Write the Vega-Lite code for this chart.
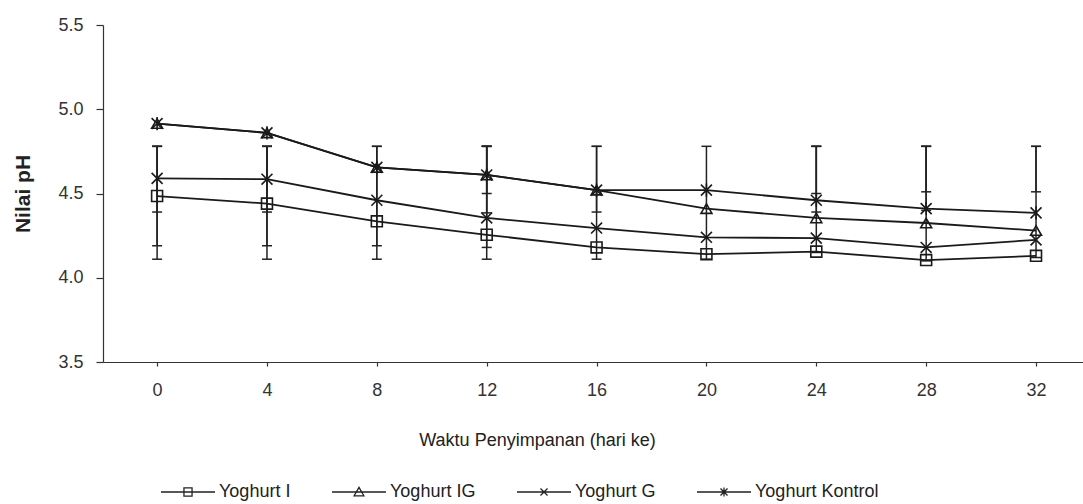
{
  "$schema": "https://vega.github.io/schema/vega-lite/v6.json",
  "width": 980,
  "height": 337,
  "autosize": "none",
  "padding": {"left": 103, "top": 25, "right": 0, "bottom": 142},
  "background": "white",
  "config": {
    "font": "Liberation Sans",
    "view": {"stroke": null},
    "axis": {"grid": false, "domainColor": "#333", "tickColor": "#333", "labelColor": "#333", "titleColor": "#222", "domainWidth": 1.2, "tickWidth": 1.2}
  },
  "resolve": {"scale": {"shape": "independent"}, "legend": {"shape": "independent"}},
  "datasets": {
    "means": [
      {"day": 0, "series": "Yoghurt I", "ph": 4.485},
      {"day": 4, "series": "Yoghurt I", "ph": 4.44},
      {"day": 8, "series": "Yoghurt I", "ph": 4.335},
      {"day": 12, "series": "Yoghurt I", "ph": 4.255},
      {"day": 16, "series": "Yoghurt I", "ph": 4.18},
      {"day": 20, "series": "Yoghurt I", "ph": 4.14},
      {"day": 24, "series": "Yoghurt I", "ph": 4.155},
      {"day": 28, "series": "Yoghurt I", "ph": 4.105},
      {"day": 32, "series": "Yoghurt I", "ph": 4.13},
      {"day": 0, "series": "Yoghurt IG", "ph": 4.915},
      {"day": 4, "series": "Yoghurt IG", "ph": 4.86},
      {"day": 8, "series": "Yoghurt IG", "ph": 4.655},
      {"day": 12, "series": "Yoghurt IG", "ph": 4.61},
      {"day": 16, "series": "Yoghurt IG", "ph": 4.52},
      {"day": 20, "series": "Yoghurt IG", "ph": 4.41},
      {"day": 24, "series": "Yoghurt IG", "ph": 4.355},
      {"day": 28, "series": "Yoghurt IG", "ph": 4.325},
      {"day": 32, "series": "Yoghurt IG", "ph": 4.28},
      {"day": 0, "series": "Yoghurt G", "ph": 4.59},
      {"day": 4, "series": "Yoghurt G", "ph": 4.585},
      {"day": 8, "series": "Yoghurt G", "ph": 4.46},
      {"day": 12, "series": "Yoghurt G", "ph": 4.355},
      {"day": 16, "series": "Yoghurt G", "ph": 4.295},
      {"day": 20, "series": "Yoghurt G", "ph": 4.24},
      {"day": 24, "series": "Yoghurt G", "ph": 4.235},
      {"day": 28, "series": "Yoghurt G", "ph": 4.18},
      {"day": 32, "series": "Yoghurt G", "ph": 4.225},
      {"day": 0, "series": "Yoghurt Kontrol", "ph": 4.915},
      {"day": 4, "series": "Yoghurt Kontrol", "ph": 4.86},
      {"day": 8, "series": "Yoghurt Kontrol", "ph": 4.655},
      {"day": 12, "series": "Yoghurt Kontrol", "ph": 4.61},
      {"day": 16, "series": "Yoghurt Kontrol", "ph": 4.52},
      {"day": 20, "series": "Yoghurt Kontrol", "ph": 4.52},
      {"day": 24, "series": "Yoghurt Kontrol", "ph": 4.46},
      {"day": 28, "series": "Yoghurt Kontrol", "ph": 4.41},
      {"day": 32, "series": "Yoghurt Kontrol", "ph": 4.385}
    ],
    "errors": [
      {"day": 0, "lo": 4.11, "hi": 4.78},
      {"day": 0, "lo": 4.19, "hi": 4.78},
      {"day": 0, "lo": 4.39, "hi": 4.78},
      {"day": 4, "lo": 4.11, "hi": 4.78},
      {"day": 4, "lo": 4.19, "hi": 4.78},
      {"day": 4, "lo": 4.39, "hi": 4.78},
      {"day": 8, "lo": 4.11, "hi": 4.78},
      {"day": 8, "lo": 4.19, "hi": 4.78},
      {"day": 12, "lo": 4.11, "hi": 4.78},
      {"day": 12, "lo": 4.18, "hi": 4.78},
      {"day": 12, "lo": 4.385, "hi": 4.78},
      {"day": 12, "lo": 4.5, "hi": 4.78},
      {"day": 16, "lo": 4.11, "hi": 4.78},
      {"day": 16, "lo": 4.39, "hi": 4.78},
      {"day": 20, "lo": 4.11, "hi": 4.78},
      {"day": 24, "lo": 4.15, "hi": 4.78},
      {"day": 24, "lo": 4.39, "hi": 4.78},
      {"day": 24, "lo": 4.5, "hi": 4.78},
      {"day": 28, "lo": 4.1, "hi": 4.78},
      {"day": 28, "lo": 4.4, "hi": 4.78},
      {"day": 28, "lo": 4.51, "hi": 4.78},
      {"day": 32, "lo": 4.12, "hi": 4.78},
      {"day": 32, "lo": 4.51, "hi": 4.78}
    ]
  },
  "layer": [
    {
      "data": {"name": "errors"},
      "mark": {"type": "rule", "color": "#222", "strokeWidth": 1.5},
      "encoding": {
        "x": {
          "field": "day", "type": "quantitative",
          "scale": {"domain": [-1.97, 33.71], "nice": false, "zero": false},
          "title": "Waktu Penyimpanan (hari ke)",
          "axis": {
            "values": [0, 4, 8, 12, 16, 20, 24, 28, 32],
            "tickSize": 4, "labelPadding": 15, "labelFontSize": 18, "labelFlush": false,
            "titleFontSize": 18, "titleFontWeight": "normal",
            "titleX": 434, "titleY": 78, "titleBaseline": "middle"
          }
        },
        "y": {
          "field": "lo", "type": "quantitative",
          "scale": {"domain": [3.5, 5.5], "nice": false, "zero": false},
          "title": "Nilai pH",
          "axis": {
            "values": [3.5, 4.0, 4.5, 5.0, 5.5], "format": ".1f",
            "tickSize": 7, "labelPadding": 13, "labelFontSize": 18,
            "titleFontSize": 21, "titleFontWeight": "bold", "titlePadding": 24
          }
        },
        "y2": {"field": "hi"}
      }
    },
    {
      "data": {"name": "errors"},
      "mark": {"type": "tick", "orient": "horizontal", "size": 10, "thickness": 1.5, "color": "#222", "opacity": 1},
      "encoding": {
        "x": {"field": "day", "type": "quantitative", "title": "Waktu Penyimpanan (hari ke)"},
        "y": {"field": "lo", "type": "quantitative", "title": "Nilai pH"}
      }
    },
    {
      "data": {"name": "errors"},
      "mark": {"type": "tick", "orient": "horizontal", "size": 10, "thickness": 1.5, "color": "#222", "opacity": 1},
      "encoding": {
        "x": {"field": "day", "type": "quantitative", "title": "Waktu Penyimpanan (hari ke)"},
        "y": {"field": "hi", "type": "quantitative", "title": "Nilai pH"}
      }
    },
    {
      "data": {"name": "means"},
      "mark": {"type": "line", "color": "#1a1a1a", "strokeWidth": 1.8},
      "encoding": {
        "x": {"field": "day", "type": "quantitative", "title": "Waktu Penyimpanan (hari ke)"},
        "y": {"field": "ph", "type": "quantitative", "title": "Nilai pH"},
        "detail": {"field": "series", "type": "nominal"}
      }
    },
    {
      "data": {"name": "means"},
      "mark": {"type": "point", "filled": false, "color": "#1a1a1a", "strokeWidth": 1.6, "size": 120, "opacity": 1},
      "encoding": {
        "x": {"field": "day", "type": "quantitative", "title": "Waktu Penyimpanan (hari ke)"},
        "y": {"field": "ph", "type": "quantitative", "title": "Nilai pH"},
        "shape": {
          "field": "series", "type": "nominal",
          "scale": {
            "domain": ["Yoghurt I", "Yoghurt IG", "Yoghurt G", "Yoghurt Kontrol"],
            "range": ["square", "triangle-up", "M-1,-1L1,1M-1,1L1,-1", "M-1,-1L1,1M-1,1L1,-1M0,-1.2L0,1.2"]
          },
          "legend": null
        }
      }
    },
    {
      "data": {"name": "means"},
      "transform": [{"filter": "datum.day < 0"}],
      "mark": {"type": "point", "filled": false, "color": "#222", "strokeWidth": 1.3, "opacity": 1},
      "encoding": {
        "x": {"field": "day", "type": "quantitative", "title": "Waktu Penyimpanan (hari ke)"},
        "y": {"field": "ph", "type": "quantitative", "title": "Nilai pH"},
        "shape": {
          "field": "series", "type": "nominal",
          "scale": {
            "domain": ["Yoghurt I", "Yoghurt IG", "Yoghurt G", "Yoghurt Kontrol"],
            "range": [
              "M-1,0L1,0M-0.15,-0.15L0.15,-0.15L0.15,0.15L-0.15,0.15Z",
              "M-1,0L1,0M0,-0.17L0.18,0.14L-0.18,0.14Z",
              "M-1,0L1,0M-0.13,-0.13L0.13,0.13M-0.13,0.13L0.13,-0.13",
              "M-1,0L1,0M-0.13,-0.13L0.13,0.13M-0.13,0.13L0.13,-0.13M0,-0.17L0,0.17"
            ]
          },
          "legend": {
            "title": null,
            "orient": "none",
            "legendX": 57,
            "legendY": 439,
            "direction": "horizontal",
            "columns": 4,
            "columnPadding": 38,
            "padding": 0,
            "symbolSize": 2916,
            "symbolStrokeWidth": 1.3,
            "symbolStrokeColor": "#222",
            "symbolFillColor": "transparent",
            "labelOffset": 3,
            "labelFontSize": 18,
            "labelColor": "#222",
            "labelFont": "Liberation Sans",
            "encode": {
              "symbols": {
                "update": {
                  "size": {"value": 2916},
                  "stroke": {"value": "#222"},
                  "fill": {"value": "transparent"},
                  "strokeWidth": {"value": 1.3},
                  "opacity": {"value": 1}
                }
              }
            }
          }
        }
      }
    }
  ]
}
